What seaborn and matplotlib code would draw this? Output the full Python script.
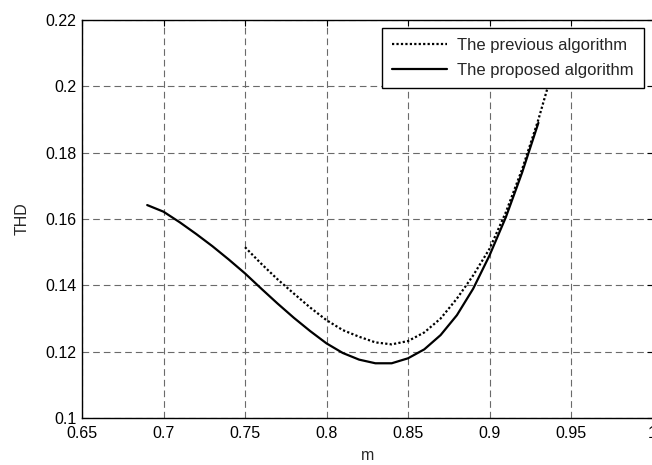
import matplotlib
matplotlib.use("Agg")
import matplotlib.pyplot as plt
import seaborn as sns
import pandas as pd

# Data
m_proposed = [0.69, 0.70, 0.71, 0.72, 0.73, 0.74, 0.75, 0.76, 0.77, 0.78, 0.79, 0.80,
              0.81, 0.82, 0.83, 0.84, 0.85, 0.86, 0.87, 0.88, 0.89, 0.90, 0.91, 0.92, 0.93]
thd_proposed = [0.1642, 0.1622, 0.1590, 0.1555, 0.1518, 0.1478, 0.1436, 0.1390, 0.1345,
                0.1302, 0.1262, 0.1225, 0.1196, 0.1176, 0.1165, 0.1165, 0.1180, 0.1207,
                0.1250, 0.1310, 0.1390, 0.1490, 0.1605, 0.1740, 0.1890]

m_previous = [0.75, 0.76, 0.77, 0.78, 0.79, 0.80, 0.81, 0.82, 0.83, 0.84, 0.85, 0.86,
              0.87, 0.88, 0.89, 0.90, 0.91, 0.92, 0.93, 0.94]
thd_previous = [0.1515, 0.1465, 0.1418, 0.1375, 0.1333, 0.1295, 0.1265, 0.1245, 0.1228,
                0.1222, 0.1232, 0.1258, 0.1300, 0.1360, 0.1430, 0.1510, 0.1620, 0.1750,
                0.1900, 0.2070]

x_ticks = [0.65, 0.7, 0.75, 0.8, 0.85, 0.9, 0.95, 1.0]
x_ticklabels = ["0.65", "0.7", "0.75", "0.8", "0.85", "0.9", "0.95", "1"]
y_ticks = [0.1, 0.12, 0.14, 0.16, 0.18, 0.2, 0.22]
y_ticklabels = ["0.1", "0.12", "0.14", "0.16", "0.18", "0.2", "0.22"]

label_prev = "The previous algorithm"
label_prop = "The proposed algorithm"

sns.set_style("white")
plt.rcParams['font.family'] = ['Liberation Sans', 'DejaVu Sans']
plt.rcParams['font.size'] = 11.5

fig = plt.figure(figsize=(6.52, 4.65), dpi=100)
ax = fig.add_axes([82 / 652, 1 - 418 / 465, (652.5 - 82) / 652, (418 - 20) / 465])

df_prev = pd.DataFrame({"m": m_previous, "THD": thd_previous})
df_prop = pd.DataFrame({"m": m_proposed, "THD": thd_proposed})

sns.lineplot(data=df_prev, x="m", y="THD", ax=ax, color="black", linewidth=1.6,
             linestyle=(0, (1, 1)), label=label_prev)
sns.lineplot(data=df_prop, x="m", y="THD", ax=ax, color="black", linewidth=1.6,
             linestyle="-", label=label_prop)

ax.set_xlim(0.65, 1.0)
ax.set_ylim(0.1, 0.22)
ax.set_xticks(x_ticks)
ax.set_xticklabels(x_ticklabels)
ax.set_yticks(y_ticks)
ax.set_yticklabels(y_ticklabels)

ax.grid(True, color="#6a6a6a", linewidth=0.8, linestyle=(0, (6.0, 3.6)))
ax.set_axisbelow(True)
for s in ax.spines.values():
    s.set_color("black")
    s.set_linewidth(1.0)
ax.tick_params(direction="in", length=4, width=0.8, colors="black",
               top=True, right=True, labelsize=11.5)
ax.tick_params(axis="x", pad=6)
ax.tick_params(axis="y", pad=4)

ax.set_xlabel("m", fontsize=11.5, labelpad=5)
ax.set_ylabel("THD", fontsize=11.5, labelpad=11)

leg = ax.legend(loc="upper right", bbox_to_anchor=(0.985, 0.98), borderaxespad=0,
                fancybox=False, framealpha=1, edgecolor="black", fontsize=12,
                handlelength=3.3, handletextpad=0.6, labelspacing=0.6,
                borderpad=0.6)
leg.get_frame().set_linewidth(1.0)

fig.savefig("out.png", dpi=100)
